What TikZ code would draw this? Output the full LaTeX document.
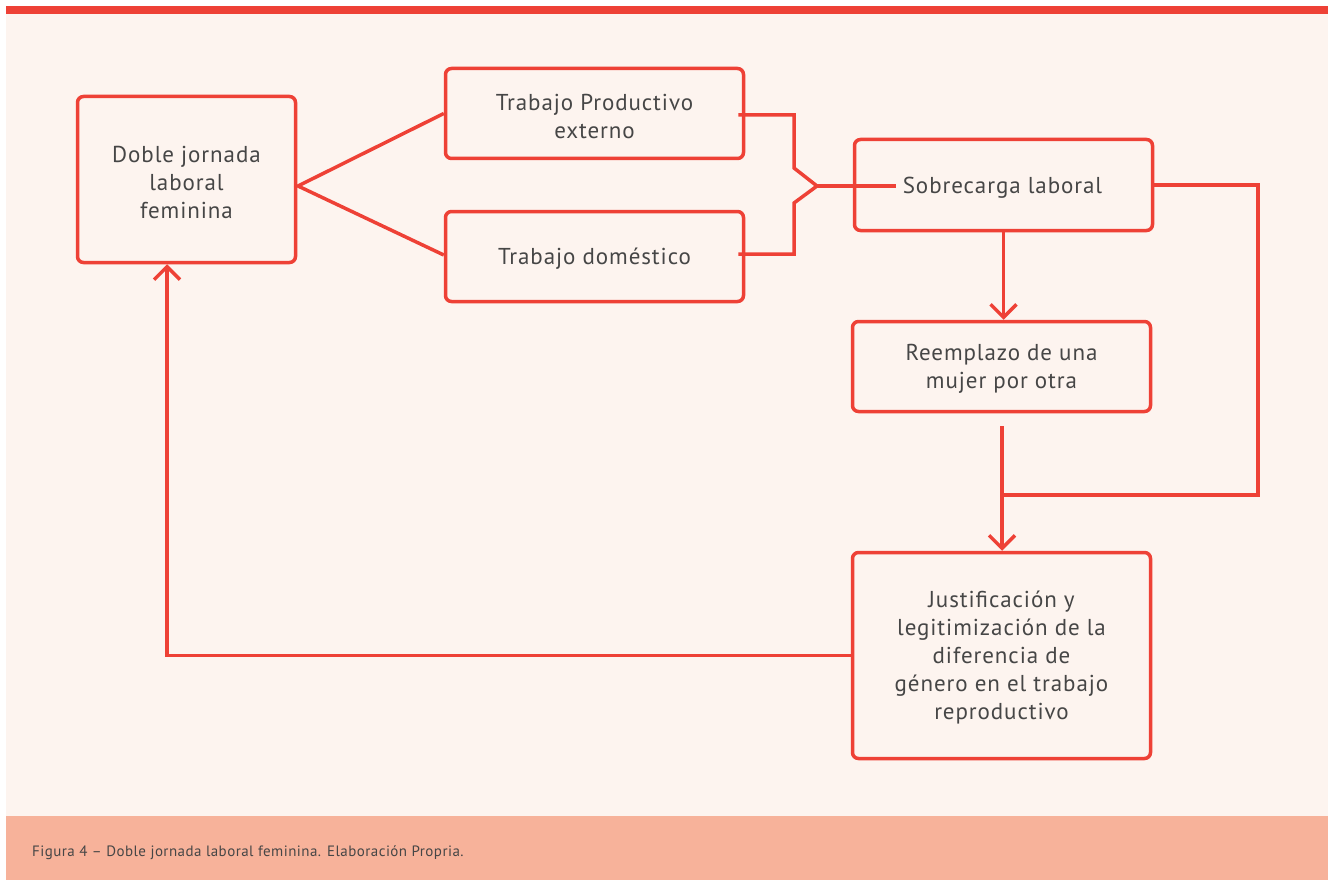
\documentclass[tikz,border=0pt]{standalone}
\usepackage{fontspec}
\setmainfont{PT Sans}
\newfontfamily\boxfont[LetterSpace=4]{PT Sans}
\newfontfamily\capfont[LetterSpace=3]{PT Sans}
\usetikzlibrary{arrows.meta,calc}
\definecolor{rd}{RGB}{238,65,54}
\definecolor{bg}{RGB}{253,244,239}
\definecolor{band}{RGB}{247,178,154}
\definecolor{txt}{RGB}{70,70,70}
\tikzset{
  box/.style={draw=rd,line width=3.5pt,rounded corners=6pt,fill=bg,inner sep=0pt},
  lbl/.style={align=center,text=txt,font=\boxfont\fontsize{23}{28}\selectfont,inner sep=0pt},
  con/.style={draw=rd,line width=3.5pt},
  arr/.style={con,-{Straight Barb[length=13pt,width=26pt,line width=3.5pt]}},
}
\begin{document}
\begin{tikzpicture}[x=1pt,y=-1pt]
\useasboundingbox (0,0) rectangle (1328,880);
\fill[white] (0,0) rectangle (1328,880);
\fill[bg] (6,14) rectangle (1328,816);
\fill[rd] (6,6) rectangle (1328,14);
\fill[band] (6,816) rectangle (1328,880);
\node[anchor=west,text=txt,font=\capfont\fontsize{15}{18}\selectfont,inner sep=0pt] (cap) at (32,853)
  {Figura 4 – Doble jornada laboral feminina. Elaboración Propria.};

\node[box,minimum width=218pt,minimum height=166pt] (doble) at (186.5,179.5) {};
\node[lbl] (doblet) at ($(doble)+(0,2.5)$) {Doble jornada\\laboral\\feminina};
\node[box,minimum width=298pt,minimum height=90pt] (tpe) at (594.5,113.5) {};
\node[lbl] (tpet) at ($(tpe)+(0,2.5)$) {Trabajo Productivo\\externo};
\node[box,minimum width=298pt,minimum height=90pt] (tdom) at (594.5,256.5) {};
\node[lbl] (tdomt) at ($(tdom)+(0,2.5)$) {Trabajo doméstico};
\node[box,minimum width=298pt,minimum height=91pt] (sob) at (1003.5,185) {};
\node[lbl] (sobt) at ($(sob)+(-1,2.5)$) {Sobrecarga laboral};
\node[box,minimum width=298pt,minimum height=90pt] (reem) at (1001.5,366.5) {};
\node[lbl] (reemt) at ($(reem)+(0,2.5)$) {Reemplazo de una\\mujer por otra};
\node[box,minimum width=298pt,minimum height=206pt] (just) at (1001.5,655.5) {};
\node[lbl] (justt) at ($(just)+(0,2.5)$)
  {Justificación y\\legitimización de la\\diferencia de\\género en el trabajo\\reproductivo};

% fork from Doble jornada
\coordinate (dapex) at (298,186);
\draw[con] (tpe.west) -- (dapex) -- (tdom.west |- 0,255);

% bracket into Sobrecarga
\coordinate (apex) at (817,186);
\coordinate (sobin) at ($(sob.west)+(43,1)$);
\draw[con] ($(tpe.east)+(-7,1.5)$) -- (794,115) -- (794,168) -- (apex) -- (794,203) -- (794,254) -- ($(tdom.east)+(-7,-2.5)$);
\draw[con] (apex) -- (sobin);

% Sobrecarga -> Reemplazo
\draw[arr] (sob.south) -- (sob.south |- reem.north);

% loop from Sobrecarga right side
\coordinate (join) at (1002,495);
\draw[con] (sob.east) -- (1258,185) |- (join);

% Reemplazo -> Justificacion
\coordinate (rstart) at ($(reem.south)+(0.5,13)$);
\draw[arr] (rstart) -- (rstart |- just.north);

% Justificacion -> Doble jornada
\coordinate (dbot) at ($(doble.south)+(-19.5,0)$);
\draw[arr] (just.west) -- (dbot |- just.west) -- (dbot);
\end{tikzpicture}
\end{document}
